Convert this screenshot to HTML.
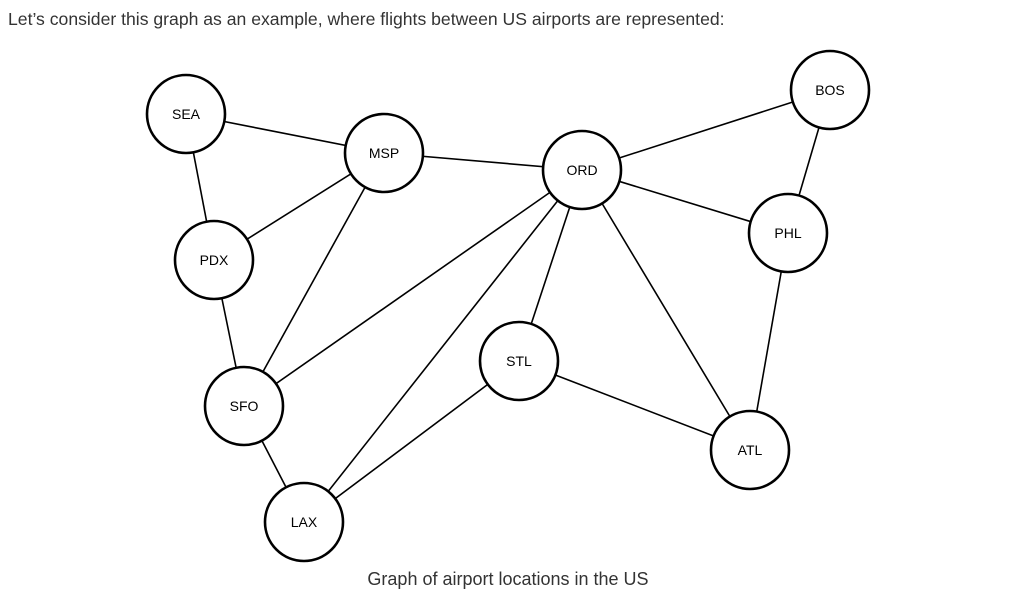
<!DOCTYPE html>
<html><head><meta charset="utf-8"><style>
body{margin:0;background:#fff;width:1018px;height:597px;overflow:hidden;font-family:"Liberation Sans",sans-serif}
</style></head><body>
<svg width="1018" height="597" viewBox="0 0 1018 597">
<text x="8" y="25" font-size="17.6" fill="#333">Let’s consider this graph as an example, where flights between US airports are represented:</text>
<g id="edges"></g>
<g id="nodes"></g>
<text x="508" y="585" font-size="18" fill="#333" text-anchor="middle">Graph of airport locations in the US</text>
</svg>
<script>
const names=["SEA","MSP","ORD","BOS","PHL","PDX","STL","SFO","ATL","LAX"];
const xs=[186,384,582,830,788,214,519,244,750,304];
const ys=[114,153,170,90,233,260,361,406,450,522];
const links=[["SEA","MSP"],["SEA","PDX"],["PDX","MSP"],["PDX","SFO"],["MSP","SFO"],["MSP","ORD"],["ORD","BOS"],["ORD","PHL"],["ORD","SFO"],["ORD","LAX"],["ORD","STL"],["ORD","ATL"],["BOS","PHL"],["PHL","ATL"],["STL","ATL"],["STL","LAX"],["SFO","LAX"]];
const NS="http://www.w3.org/2000/svg";
const eg=document.getElementById('edges'),ng=document.getElementById('nodes');
links.forEach(([a,b])=>{const i=names.indexOf(a),j=names.indexOf(b);
const l=document.createElementNS(NS,'line');
l.setAttribute('x1',xs[i]);l.setAttribute('y1',ys[i]);l.setAttribute('x2',xs[j]);l.setAttribute('y2',ys[j]);
l.setAttribute('stroke','#000');l.setAttribute('stroke-width','1.6');


eg.appendChild(l);});
names.forEach((n,i)=>{const g=document.createElementNS(NS,'g');


const c=document.createElementNS(NS,'circle');c.setAttribute('cx',xs[i]);c.setAttribute('cy',ys[i]);c.setAttribute('r','39');
c.setAttribute('fill','#fff');c.setAttribute('stroke','#000');c.setAttribute('stroke-width','2.6');
const t=document.createElementNS(NS,'text');t.setAttribute('x',xs[i]);t.setAttribute('y',ys[i]+5);
t.setAttribute('text-anchor','middle');t.setAttribute('font-size','14');t.textContent=n;
g.appendChild(c);g.appendChild(t);ng.appendChild(g);});
</script>
</body></html>
